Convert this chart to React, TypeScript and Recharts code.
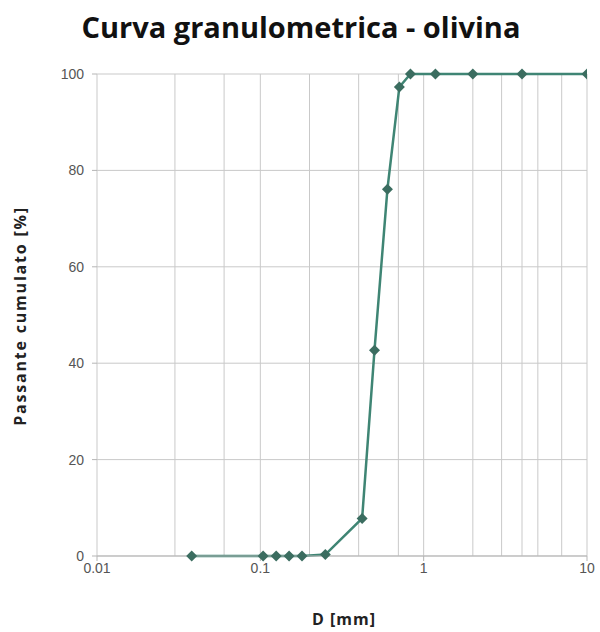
import React from "react"
import { LineChart, Line, XAxis, YAxis, CartesianGrid } from "recharts"

// sieve diameters [mm] and cumulative passing [%]
const diameters = [0.038, 0.104, 0.125, 0.15, 0.18, 0.25, 0.42, 0.5, 0.6, 0.71, 0.83, 1.18, 2, 4, 10]
const passing = [0, 0, 0, 0, 0, 0.3, 7.8, 42.7, 76.1, 97.3, 100, 100, 100, 100, 100]

const xTicks = [0.01, 0.1, 1, 10]
const yTicks = [0, 20, 40, 60, 80, 100]
const minorX = [0.01, 0.1, 1].flatMap((d) => [1, 2, 3, 4, 5, 6, 7, 8, 9].map((m) => +(d * m).toPrecision(3))).concat([10])

const data = diameters.map((d, i) => ({ d, p: passing[i] }))

const font = "'Liberation Sans', Arial, sans-serif"
const labelFont = "'Open Sans', sans-serif"

const Diamond = (props: any) => {
  const { cx, cy } = props
  if (cx == null || cy == null) return null
  const r = 5.5
  return <polygon points={`${cx},${cy - r} ${cx + r},${cy} ${cx},${cy + r} ${cx - r},${cy}`} fill="#3b6d60" />
}

export default function App() {
  return (
    <div style={{ position: "absolute", left: 0, top: 0, width: 600, height: 632, background: "#fff", fontFamily: font }}>
      <div
        style={{
          position: "absolute",
          top: 7,
          left: 0,
          width: 602,
          textAlign: "center",
          fontSize: 29,
          fontWeight: "bold",
          color: "#111",
          fontFamily: labelFont,
          whiteSpace: "nowrap",
        }}
      >
        Curva granulometrica - olivina
      </div>
      <LineChart width={600} height={632} data={data} margin={{ top: 74, right: 13, bottom: 46, left: 37 }}>
        <CartesianGrid stroke="#c9c9c9" verticalValues={minorX} horizontalValues={yTicks} />
        <XAxis
          dataKey="d"
          type="number"
          scale="log"
          domain={[0.01, 10]}
          ticks={xTicks}
          allowDataOverflow
          tickFormatter={(v) => String(v)}
          axisLine={{ stroke: "#b5b5b5" }}
          tickLine={{ stroke: "#b5b5b5" }}
          tickSize={5}
          height={30}
          tick={{ fontSize: 14, fill: "#555", fontFamily: font }}
        />
        <YAxis
          type="number"
          domain={[0, 100]}
          ticks={yTicks}
          width={60}
          axisLine={false}
          tickLine={{ stroke: "#b5b5b5" }}
          tickSize={5}
          tickMargin={8}
          tick={{ fontSize: 14, fill: "#555", fontFamily: font }}
        />
        <Line
          dataKey="p"
          type="linear"
          stroke="#3f8574"
          strokeWidth={2.5}
          dot={<Diamond />}
          isAnimationActive={false}
        />
      </LineChart>
      <div
        style={{
          position: "absolute",
          left: 20 - 130,
          top: 317 - 12,
          width: 260,
          textAlign: "center",
          transform: "rotate(-90deg)",
          fontSize: 16,
          letterSpacing: 1.8,
          fontWeight: "bold",
          color: "#222",
          fontFamily: labelFont,
          whiteSpace: "nowrap",
        }}
      >
        Passante cumulato [%]
      </div>
      <div
        style={{
          position: "absolute",
          left: 344 - 60,
          top: 608,
          width: 120,
          textAlign: "center",
          fontSize: 16,
          letterSpacing: 1,
          fontWeight: "bold",
          color: "#222",
          fontFamily: labelFont,
          whiteSpace: "nowrap",
        }}
      >
        D [mm]
      </div>
    </div>
  )
}
